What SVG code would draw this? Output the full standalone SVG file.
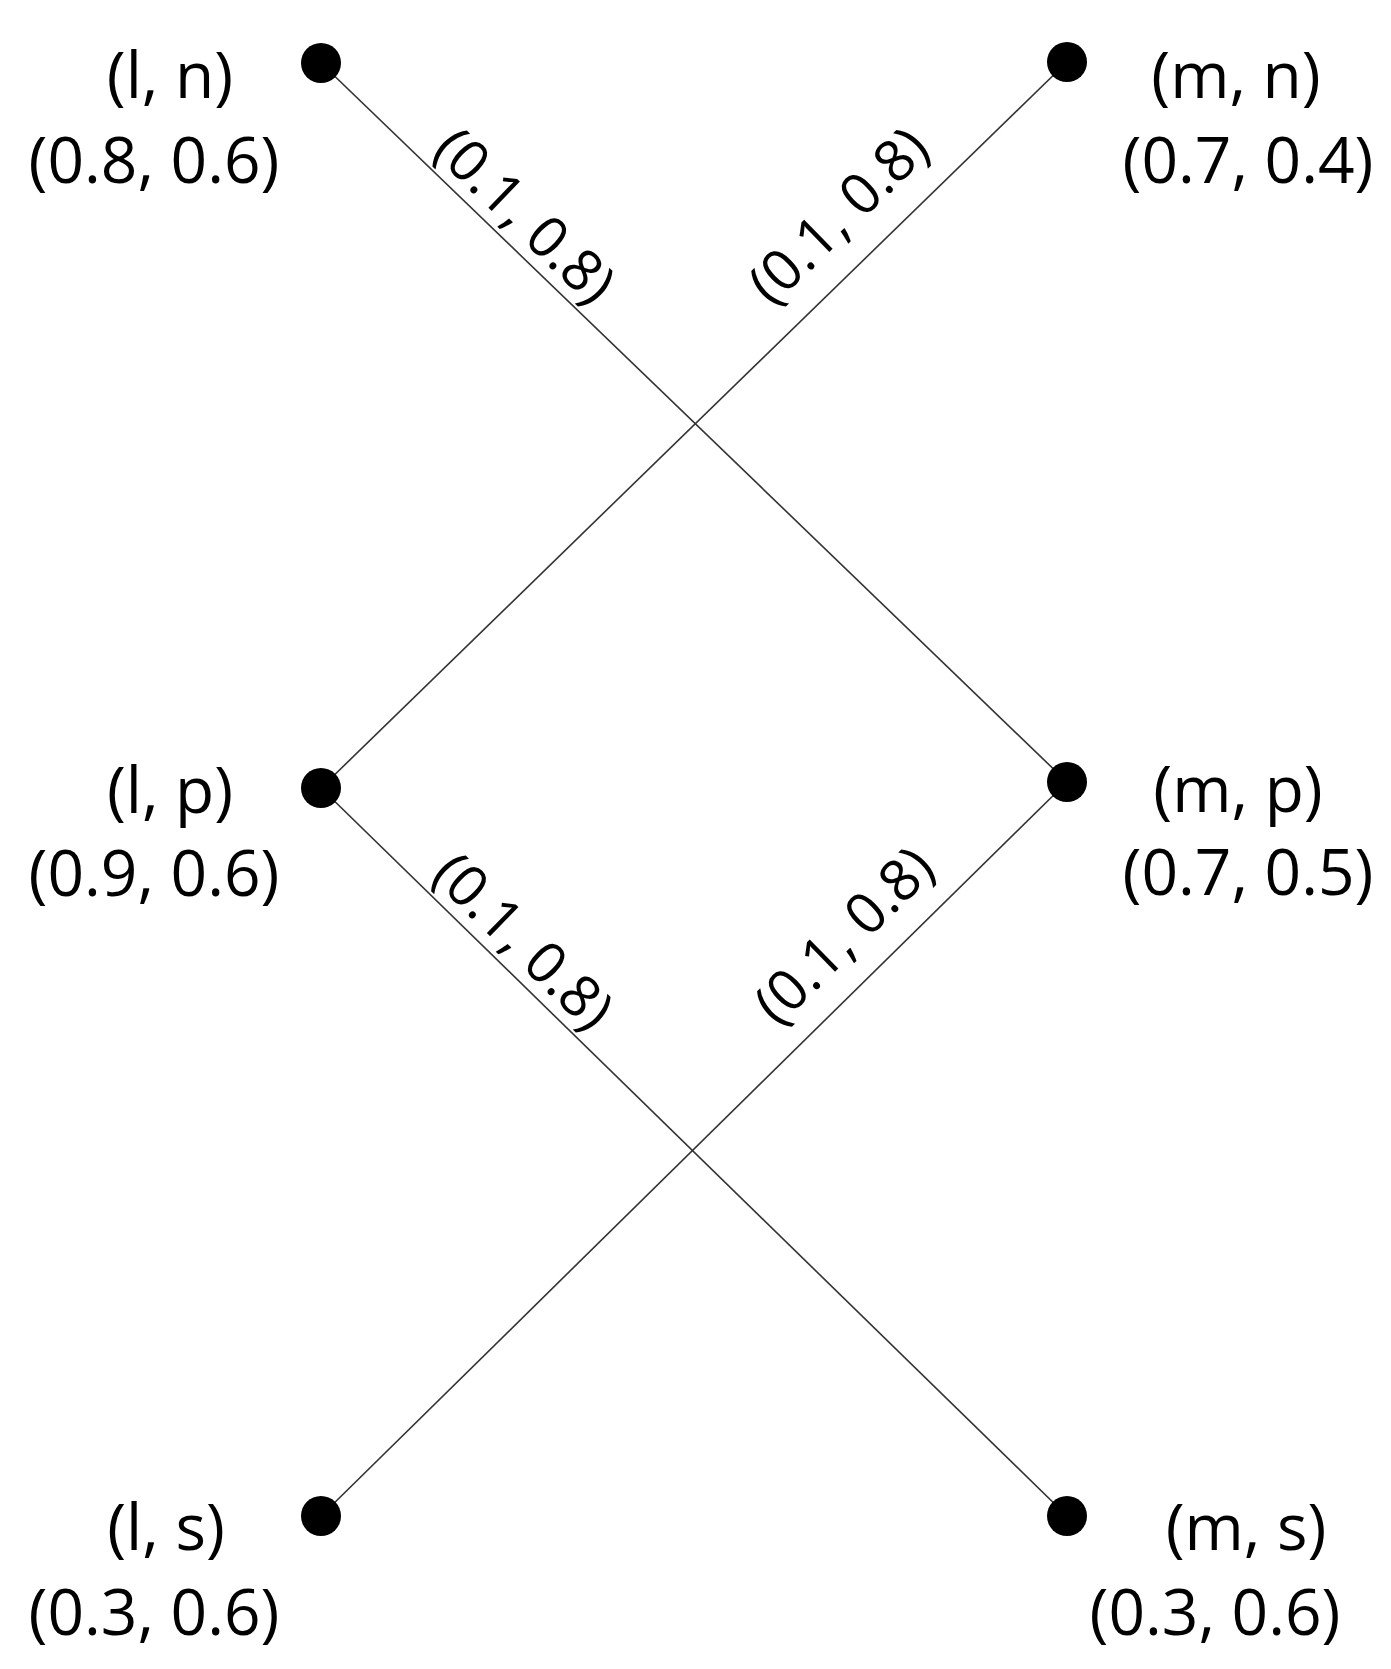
<svg xmlns="http://www.w3.org/2000/svg" width="1391" height="1669" viewBox="0 0 1391 1669">
<style>
.dot{fill:#000}
.edge{stroke:#333;stroke-width:1.6;fill:none}
.lbl{font-family:"Open Sans","Noto Sans",sans-serif;font-size:64px;fill:#000;text-anchor:middle}
.elbl{font-family:"Open Sans","Noto Sans",sans-serif;font-size:57px;fill:#000;text-anchor:middle}
</style>
<rect width="1391" height="1669" fill="#fff"/>
<g id="connectors">
<line class="edge" x1="321" y1="63" x2="1067" y2="782"/>
<line class="edge" x1="1067" y1="62" x2="321" y2="788"/>
<line class="edge" x1="321" y1="788" x2="1067" y2="1516"/>
<line class="edge" x1="1067" y1="782" x2="321" y2="1516"/>
<text class="elbl" transform="translate(321,63) rotate(43.95)" x="253" y="-12">(0.1, 0.8)</text>
<text class="elbl" transform="translate(321,788) rotate(-44.2)" x="770" y="-30">(0.1, 0.8)</text>
<text class="elbl" transform="translate(321,788) rotate(44.3)" x="252" y="-12">(0.1, 0.8)</text>
<text class="elbl" transform="translate(321,1516) rotate(-44.5)" x="780" y="-28">(0.1, 0.8)</text>
</g>
<g id="node-l-n">
<circle class="dot" cx="321" cy="63" r="20"/>
<text class="lbl" x="170" y="98">(l, n)</text>
<text class="lbl" x="154" y="183">(0.8, 0.6)</text>
</g>
<g id="node-m-n">
<circle class="dot" cx="1067" cy="62" r="20"/>
<text class="lbl" x="1236" y="98">(m, n)</text>
<text class="lbl" x="1248" y="183">(0.7, 0.4)</text>
</g>
<g id="node-l-p">
<circle class="dot" cx="321" cy="788" r="20"/>
<text class="lbl" x="170" y="813">(l, p)</text>
<text class="lbl" x="154" y="896">(0.9, 0.6)</text>
</g>
<g id="node-m-p">
<circle class="dot" cx="1067" cy="782" r="20"/>
<text class="lbl" x="1238" y="812">(m, p)</text>
<text class="lbl" x="1248" y="895">(0.7, 0.5)</text>
</g>
<g id="node-l-s">
<circle class="dot" cx="321" cy="1516" r="20"/>
<text class="lbl" x="166" y="1550">(l, s)</text>
<text class="lbl" x="154" y="1635">(0.3, 0.6)</text>
</g>
<g id="node-m-s">
<circle class="dot" cx="1067" cy="1516" r="20"/>
<text class="lbl" x="1246" y="1550">(m, s)</text>
<text class="lbl" x="1215" y="1635">(0.3, 0.6)</text>
</g>
</svg>
